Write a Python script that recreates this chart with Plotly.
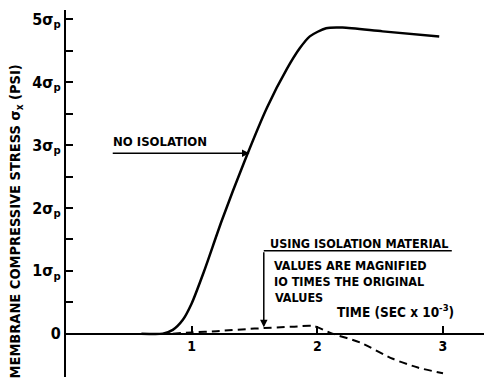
import plotly.graph_objects as go

# Data
x_no_iso = [0.60, 0.77, 0.85, 0.93, 1.00, 1.10, 1.24, 1.42, 1.60, 1.76, 1.86, 1.94, 2.07, 2.20, 2.52, 2.97]
y_no_iso = [0.00, 0.00, 0.06, 0.22, 0.48, 1.00, 1.80, 2.74, 3.60, 4.22, 4.54, 4.73, 4.86, 4.87, 4.81, 4.73]

x_iso = [0.85, 1.00, 1.20, 1.50, 1.80, 1.97, 2.12, 2.34, 2.60, 2.80, 3.00]
y_iso = [0.00, 0.02, 0.04, 0.08, 0.11, 0.12, 0.00, -0.14, -0.40, -0.54, -0.63]

x_tick_vals = [1, 2, 3]
x_tick_labels = ["1", "2", "3"]
y_tick_vals = [0, 1, 2, 3, 4, 5]
y_tick_labels = ["0", "1σ<sub>p</sub>", "2σ<sub>p</sub>", "3σ<sub>p</sub>", "4σ<sub>p</sub>", "5σ<sub>p</sub>"]
y_minor_vals = [0.5, 1.5, 2.5, 3.5, 4.5]

X_RANGE = [0, 3.39]
Y_RANGE = [-0.69, 5.15]

FONT = "Liberation Sans Narrow, DejaVu Sans Condensed, Arial Narrow, Liberation Sans, Arial"

fig = go.Figure()
fig.add_trace(go.Scatter(x=x_no_iso, y=y_no_iso, mode="lines",
                         line=dict(color="black", width=2.5, shape="spline", smoothing=0.7),
                         showlegend=False, hoverinfo="skip"))
fig.add_trace(go.Scatter(x=x_iso, y=y_iso, mode="lines",
                         line=dict(color="black", width=2, shape="spline", smoothing=0.7, dash="8px,5px"),
                         showlegend=False, hoverinfo="skip"))

xpos = (0 - Y_RANGE[0]) / (Y_RANGE[1] - Y_RANGE[0])

fig.update_layout(
    width=484, height=376,
    margin=dict(l=58, r=0, t=2, b=7),
    paper_bgcolor="white", plot_bgcolor="white",
    font=dict(family=FONT, color="black"),
    xaxis=dict(range=X_RANGE, anchor="free", position=xpos, showline=True, linecolor="black",
               linewidth=2, ticks="inside", ticklen=7, tickwidth=2, tickcolor="black",
               tickvals=x_tick_vals, ticktext=["<b>%s</b>" % t for t in x_tick_labels],
               tickfont=dict(size=14, family=FONT), showgrid=False, zeroline=False, fixedrange=True),
    yaxis=dict(range=Y_RANGE, showline=True, linecolor="black", linewidth=2,
               ticks="inside", ticklen=7, tickwidth=2, tickcolor="black",
               tickvals=y_tick_vals, ticktext=["<b>%s</b>" % t for t in y_tick_labels],
               tickfont=dict(size=16, family=FONT),
               minor=dict(tickvals=y_minor_vals, ticks="inside", ticklen=7, tickwidth=2, tickcolor="black"),
               showgrid=False, zeroline=False, fixedrange=True),
)

# Y-axis title
fig.add_annotation(xref="paper", yref="y", x=-0.118, y=1.78, textangle=-90,
                   text="<b>MEMBRANE COMPRESSIVE STRESS σ<sub>x</sub> (PSI)</b>",
                   showarrow=False, font=dict(size=14.5, family=FONT), xanchor="center", yanchor="middle")

# NO ISOLATION label and arrow
fig.add_annotation(x=0.36, y=2.9, xref="x", yref="y", text="<b>NO ISOLATION</b>", showarrow=False,
                   xanchor="left", yanchor="bottom", font=dict(size=13, family=FONT))
fig.add_annotation(x=1.46, y=2.87, ax=0.36, ay=2.87, xref="x", yref="y", axref="x", ayref="y",
                   text="", showarrow=True, arrowhead=2, arrowsize=1, arrowwidth=1.5, arrowcolor="black")

# Isolation material bracket
fig.add_shape(type="line", xref="x", yref="y", x0=1.574, x1=3.07, y0=1.32, y1=1.32,
              line=dict(color="black", width=1.5))
fig.add_annotation(x=1.574, y=0.1, ax=1.574, ay=1.32, xref="x", yref="y", axref="x", ayref="y",
                   text="", showarrow=True, arrowhead=2, arrowsize=1, arrowwidth=1.5, arrowcolor="black")

labels = [
    (1.606, 1.43, "USING ISOLATION MATERIAL"),
    (1.637, 1.09, "VALUES ARE MAGNIFIED"),
    (1.637, 0.835, "IO TIMES THE ORIGINAL"),
    (1.65, 0.58, "VALUES"),
]
for lx, ly, lt in labels:
    fig.add_annotation(x=lx, y=ly, xref="x", yref="y", text="<b>%s</b>" % lt, showarrow=False,
                       xanchor="left", yanchor="middle", font=dict(size=12.5, family=FONT))

fig.add_annotation(x=2.14, y=0.36, xref="x", yref="y", text="<b>TIME (SEC x 10<sup>-3</sup>)</b>",
                   showarrow=False, xanchor="left", yanchor="middle", font=dict(size=13.5, family=FONT))

fig.write_html("out.html")
